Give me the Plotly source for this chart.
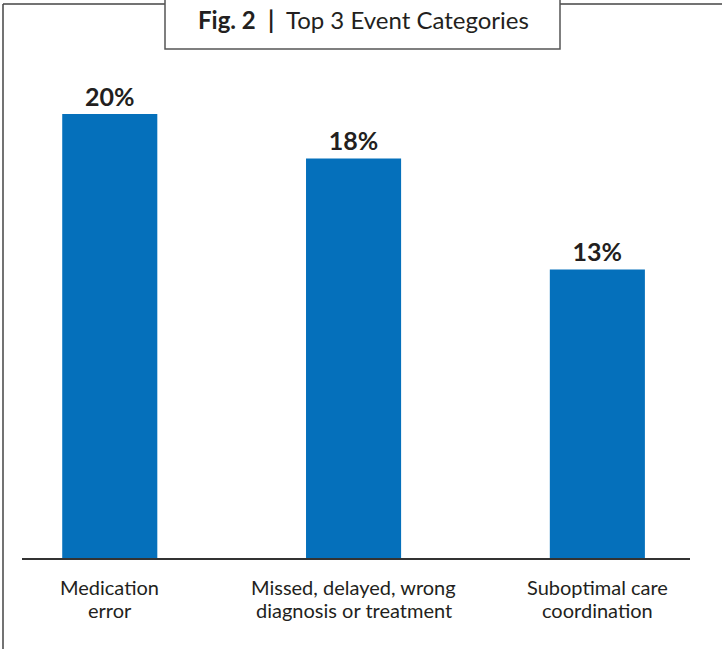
import plotly.graph_objects as go

categories_line1 = ["Medication", "Missed, delayed, wrong", "Suboptimal care"]
categories_line2 = ["error", "diagnosis or treatment", "coordination"]
values = [20, 18, 13]
value_labels = ["20%", "18%", "13%"]

W, H = 722, 649
def px(x): return x / W
def py(y): return 1 - y / H

xpos = list(range(len(values)))

fig = go.Figure(go.Bar(
    x=xpos, y=values, text=value_labels, textposition="outside",
    textfont=dict(size=25, color="#231f20", family="Lato"),
    texttemplate="<b>%{text}</b>",
    marker=dict(color="#0570bb", line=dict(width=0)),
    width=0.39, cliponaxis=False,
))

annotations = [
    dict(xref="paper", yref="paper", x=px(363), y=py(20), xanchor="center", yanchor="middle",
         text="<b>Fig. 2</b>  <b>|</b>  Top 3 Event Categories", showarrow=False,
         font=dict(size=24, color="#231f20", family="Lato")),
]
for i in xpos:
    annotations.append(dict(xref="x", yref="paper", x=i, y=py(587), xanchor="center", yanchor="middle",
                            text=categories_line1[i], showarrow=False,
                            font=dict(size=20, color="#231f20", family="Lato")))
    annotations.append(dict(xref="x", yref="paper", x=i, y=py(610), xanchor="center", yanchor="middle",
                            text=categories_line2[i], showarrow=False,
                            font=dict(size=20, color="#231f20", family="Lato")))

fig.update_layout(
    width=W, height=H, margin=dict(l=0, r=0, t=0, b=0),
    paper_bgcolor="white", plot_bgcolor="white", showlegend=False,
    font=dict(family="Lato", color="#231f20"),
    xaxis=dict(domain=[px(22), px(690)], range=[-0.36, 2.38],
               showticklabels=False,
               showline=True, linecolor="#333", linewidth=1.5,
               showgrid=False, zeroline=False, ticks=""),
    yaxis=dict(domain=[py(558), py(60)], range=[0, 498 / 22.2],
               visible=False, showgrid=False, zeroline=False),
    shapes=[
        dict(type="line", xref="paper", yref="paper", x0=px(3), x1=px(3), y0=py(4), y1=py(650),
             line=dict(color="#444", width=1.5)),
        dict(type="line", xref="paper", yref="paper", x0=px(3), x1=px(723), y0=py(4), y1=py(4),
             line=dict(color="#444", width=1.5)),
        dict(type="rect", xref="paper", yref="paper", x0=px(165), x1=px(560), y0=py(49), y1=py(-3),
             line=dict(color="#555", width=1.5), fillcolor="white", layer="above"),
    ],
    annotations=annotations,
)

fig.write_html("out.html")
